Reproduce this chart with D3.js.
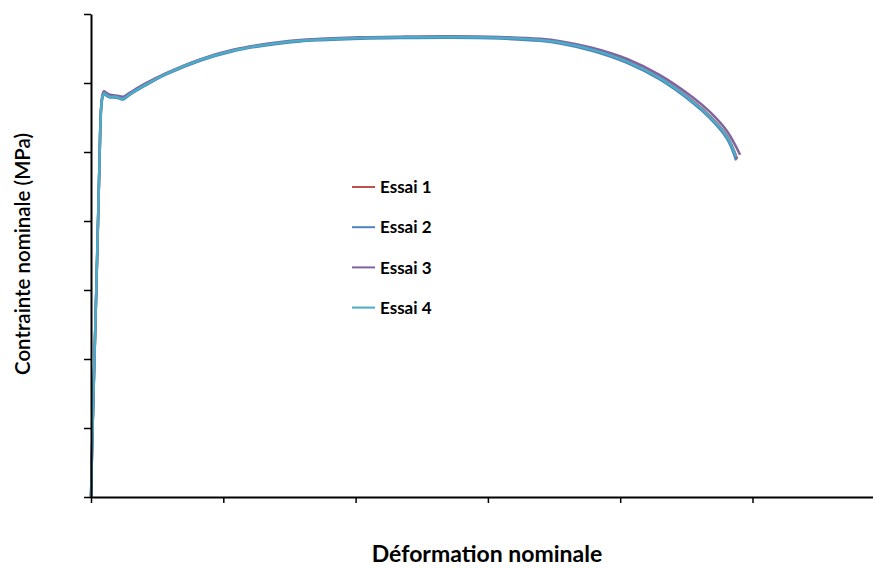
<!DOCTYPE html>
<html>
<head>
<meta charset="utf-8">
<script src="https://cdn.jsdelivr.net/npm/d3@7"></script>
<style>
  body { margin: 0; background: #fff; }
  svg { display: block; font-family: Lato, 'Open Sans', sans-serif; }
</style>
</head>
<body>
<svg id="chart" width="873" height="568"></svg>
<script>
// deformation nominale (-) / contrainte nominale (MPa)
const strain4 = [0, 0.0006, 0.002, 0.0033, 0.0036, 0.0040, 0.0044, 0.0049, 0.0057, 0.0072, 0.0091, 0.0110, 0.0121, 0.0147, 0.0204, 0.0282, 0.0412, 0.0537, 0.0665, 0.0790, 0.0866, 0.1017, 0.1168, 0.1357, 0.1546, 0.1697, 0.1773, 0.1897, 0.2026, 0.2150, 0.2275, 0.2339, 0.2404, 0.2438]
const stress4 = [0, 100, 300, 500, 546, 571, 581, 585, 583, 580, 580, 578, 577, 584, 597, 613, 633.3, 647.1, 655.8, 661.2, 663, 665.2, 666.2, 666.7, 665.5, 662.3, 658.7, 648, 631, 607, 573, 551, 522, 493]

const strain1 = [0, 0.0006, 0.002, 0.0033, 0.0036, 0.0040, 0.0044, 0.0049, 0.0057, 0.0072, 0.0091, 0.0110, 0.0121, 0.0147, 0.0204, 0.0282, 0.0412, 0.0537, 0.0665, 0.0790, 0.0866, 0.1017, 0.1168, 0.1357, 0.1546, 0.1697, 0.1773, 0.1897, 0.2026, 0.2150, 0.2275, 0.2339, 0.2404, 0.2442]
const stress1 = [0, 100, 300, 500, 547, 572, 582, 586, 584, 581, 580, 579, 578, 584, 597, 613, 633.5, 647.3, 656, 661.4, 663.2, 665.3, 666.2, 666.6, 665.4, 662.3, 658.8, 648.3, 631.4, 607.5, 574, 552, 523, 490]

const strain2 = [0, 0.0006, 0.002, 0.0033, 0.0036, 0.0040, 0.0044, 0.0049, 0.0057, 0.0072, 0.0091, 0.0110, 0.0121, 0.0147, 0.0204, 0.0282, 0.0412, 0.0537, 0.0665, 0.0790, 0.0866, 0.1017, 0.1168, 0.1357, 0.1546, 0.1697, 0.1773, 0.1897, 0.2026, 0.2150, 0.2275, 0.2339, 0.2404, 0.2438]
const stress2 = [0, 100, 300, 500, 545, 570, 580, 584, 582, 579, 579, 577, 576, 583, 596, 612, 632.3, 646.1, 654.8, 660.2, 662, 664.2, 665.2, 665.7, 664.4, 661.1, 657.3, 646.4, 629.2, 605, 571, 549, 519, 488]

const strain3 = [0, 0.0006, 0.002, 0.0033, 0.0036, 0.0040, 0.0044, 0.0049, 0.0057, 0.0072, 0.0091, 0.0110, 0.0121, 0.0147, 0.0204, 0.0282, 0.0412, 0.0537, 0.0665, 0.0790, 0.0866, 0.1017, 0.1168, 0.1357, 0.1546, 0.1697, 0.1773, 0.1897, 0.2026, 0.2150, 0.2275, 0.2339, 0.2404, 0.2453]
const stress3 = [0, 100, 300, 500, 548, 574, 584, 588, 586, 583, 582, 581, 580, 586, 599, 614, 634.3, 648.1, 656.8, 662.2, 664, 666.2, 667.2, 667.8, 666.8, 664, 660.6, 650.7, 634.8, 611.5, 579, 558, 530, 496]

const series = [
  {name: 'Essai 1', color: '#c0504d', x: strain1, y: stress1},
  {name: 'Essai 2', color: '#4f81bd', x: strain2, y: stress2},
  {name: 'Essai 3', color: '#8064a2', x: strain3, y: stress3},
  {name: 'Essai 4', color: '#4bacc6', x: strain4, y: stress4}
]

const xTicks = [0, 0.05, 0.1, 0.15, 0.2, 0.25, 0.3]
const yTicks = [0, 100, 200, 300, 400, 500, 600, 700]

const svg = d3.select('#chart')

const x = d3.scaleLinear().domain([0, 0.3]).range([91, 884.8])
const y = d3.scaleLinear().domain([0, 700]).range([497, 14])

const line = d3.line()
  .x(d => x(d[0]))
  .y(d => y(d[1]))
  .curve(d3.curveCatmullRom.alpha(0.5))

svg.append('g')
  .selectAll('path')
  .data(series)
  .join('path')
  .attr('fill', 'none')
  .attr('stroke', d => d.color)
  .attr('stroke-width', 2.5)
  .attr('stroke-linejoin', 'round')
  .attr('d', d => line(d.x.map((v, i) => [v, d.y[i]])))

svg.append('g')
  .attr('transform', 'translate(91,0)')
  .call(d3.axisLeft(y).tickValues(yTicks).tickSize(7).tickSizeOuter(0).tickFormat(''))

svg.append('g')
  .attr('transform', 'translate(0,497)')
  .call(d3.axisBottom(x).tickValues(xTicks).tickSize(6).tickSizeOuter(0).tickFormat(''))

svg.selectAll('.domain').attr('stroke', '#000').attr('stroke-width', 2)
svg.selectAll('.tick line').attr('stroke', '#000').attr('stroke-width', 1.5)

// legende
const legend = svg.append('g')
  .selectAll('g')
  .data(series)
  .join('g')
  .attr('transform', (d, i) => 'translate(352,' + (187 + i * 40.2) + ')')

legend.append('line')
  .attr('x1', 0).attr('x2', 23)
  .attr('stroke', d => d.color)
  .attr('stroke-width', 2)

legend.append('text')
  .attr('x', 28)
  .attr('dy', '0.36em')
  .attr('font-size', 17)
  .attr('font-weight', 'bold')
  .attr('fill', '#000')
  .text(d => d.name)

svg.append('text')
  .attr('transform', 'translate(30,254) rotate(-90)')
  .attr('text-anchor', 'middle')
  .attr('font-size', 20.5)
  .attr('font-weight', 600)
  .text('Contrainte nominale (MPa)')

svg.append('text')
  .attr('x', 487)
  .attr('y', 562)
  .attr('text-anchor', 'middle')
  .attr('font-size', 23)
  .attr('font-weight', 'bold')
  .text('Déformation nominale')
</script>
</body>
</html>
